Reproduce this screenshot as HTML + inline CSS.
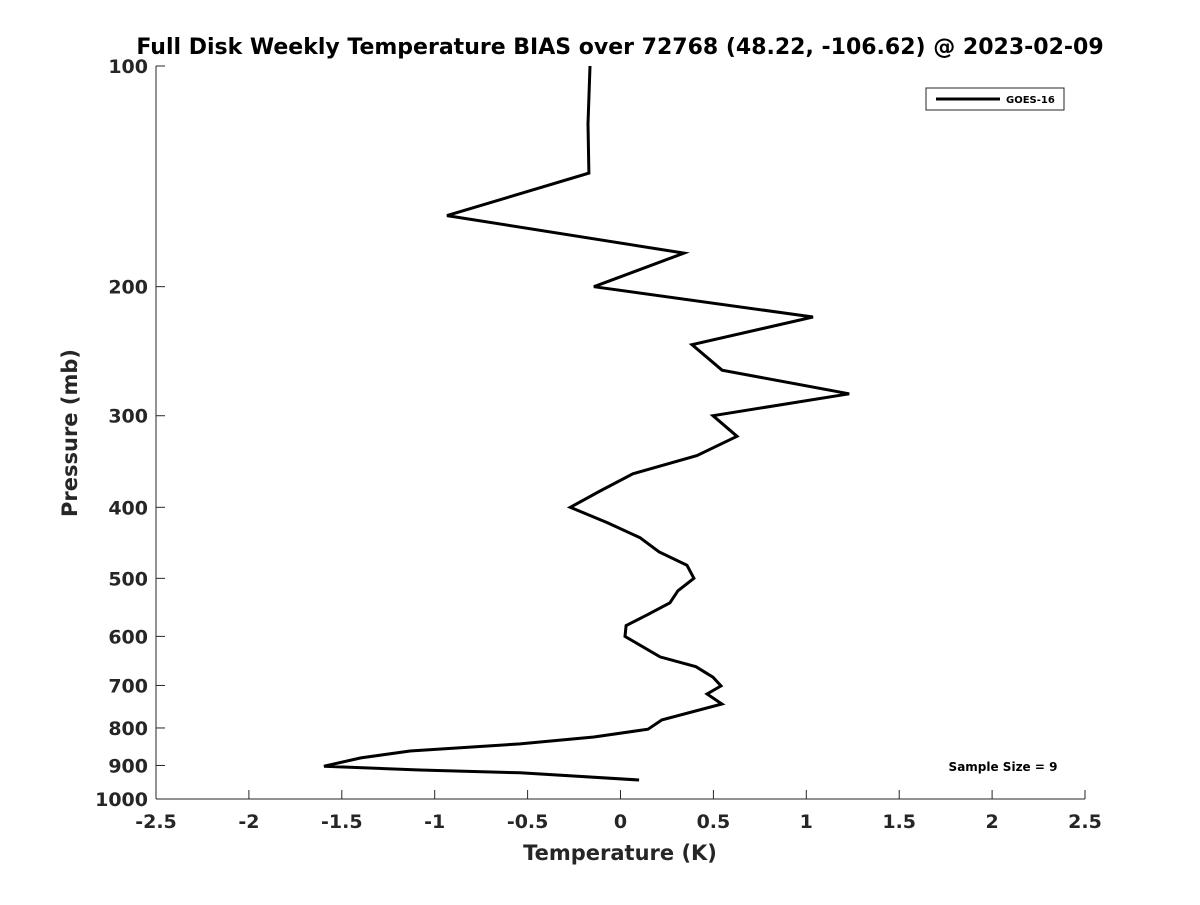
<!DOCTYPE html>
<html><head><meta charset="utf-8"><style>
body{margin:0;background:#fff;}
svg text{font-family:"DejaVu Sans","Liberation Sans",sans-serif;font-weight:bold;fill:#262626;}
</style></head><body>
<svg id="chart" width="1200" height="900" xmlns="http://www.w3.org/2000/svg">
<rect width="1200" height="900" fill="#fff"/>
<text x="620" y="54" text-anchor="middle" font-size="22" style="fill:#000">Full Disk Weekly Temperature BIAS over 72768 (48.22, -106.62) @ 2023-02-09</text>
<g id="axes"></g>
<g id="series"></g>
<g>
<rect x="926" y="88" width="138" height="22" fill="#fff" stroke="#262626" stroke-width="1"/>
<line x1="936" y1="99" x2="1000" y2="99" stroke="#000" stroke-width="3"/>
<text x="1006" y="103" font-size="10" style="fill:#000">GOES-16</text>
</g>
<text x="1003" y="771" text-anchor="middle" font-size="12" style="fill:#000">Sample Size = 9</text>
<text x="620" y="860" text-anchor="middle" font-size="21">Temperature (K)</text>
<text transform="translate(77,433) rotate(-90)" text-anchor="middle" font-size="21">Pressure (mb)</text>
</svg>
<script>
const xTicks=[-2.5,-2,-1.5,-1,-0.5,0,0.5,1,1.5,2,2.5];
const xTickLabels=["-2.5","-2","-1.5","-1","-0.5","0","0.5","1","1.5","2","2.5"];
const yTicks=[100,200,300,400,500,600,700,800,900,1000];
const yTickLabels=["100","200","300","400","500","600","700","800","900","1000"];
const pressure=[100,120,140,160,180,200,220,240,260,280,300,320,340,360,380,400,420,440,460,480,500,520,540,560,580,600,640,660,682,701,719,742,780,803,823,841,860,879,902,913,921,942];
const bias=[-0.164,-0.175,-0.17,-0.934,0.342,-0.143,1.036,0.385,0.547,1.231,0.498,0.627,0.411,0.067,-0.11,-0.27,-0.07,0.105,0.207,0.358,0.395,0.309,0.266,0.148,0.03,0.024,0.213,0.406,0.498,0.541,0.466,0.546,0.223,0.148,-0.143,-0.541,-1.133,-1.397,-1.596,-1.079,-0.541,0.1];
const X0=156,X1=1085,Y0=66,Y1=799;
const xS=v=>X0+(v+2.5)/5*(X1-X0);
const yS=p=>Y0+(Math.log10(p)-2)*(Y1-Y0);
const NS="http://www.w3.org/2000/svg";
function mk(t,a,parent){const e=document.createElementNS(NS,t);for(const k in a)e.setAttribute(k,a[k]);parent.appendChild(e);return e;}
const ax=document.getElementById('axes');
const xl=mk('line',{x1:X0,y1:Y1,x2:X1,y2:Y1,stroke:'#262626','stroke-width':1},ax);


const yl=mk('line',{x1:X0,y1:Y0,x2:X0,y2:Y1,stroke:'#262626','stroke-width':1},ax);


xTicks.forEach((v,i)=>{const x=xS(v);
const t=mk('line',{x1:x,y1:Y1,x2:x,y2:Y1-9,stroke:'#262626'},ax);


const l=mk('text',{x:x,y:Y1+29,'text-anchor':'middle','font-size':19},ax);l.textContent=xTickLabels[i];

});
yTicks.forEach((p,i)=>{const y=yS(p);
const t=mk('line',{x1:X0,y1:y,x2:X0+9,y2:y,stroke:'#262626'},ax);


const l=mk('text',{x:X0-8,y:y+7,'text-anchor':'end','font-size':19},ax);l.textContent=yTickLabels[i];

});
const pts=pressure.map((p,i)=>xS(bias[i]).toFixed(1)+','+yS(p).toFixed(1)).join(' ');
const pl=mk('polyline',{points:pts,fill:'none',stroke:'#000','stroke-width':3,'stroke-linejoin':'miter'},document.getElementById('series'));


</script>
</body></html>
